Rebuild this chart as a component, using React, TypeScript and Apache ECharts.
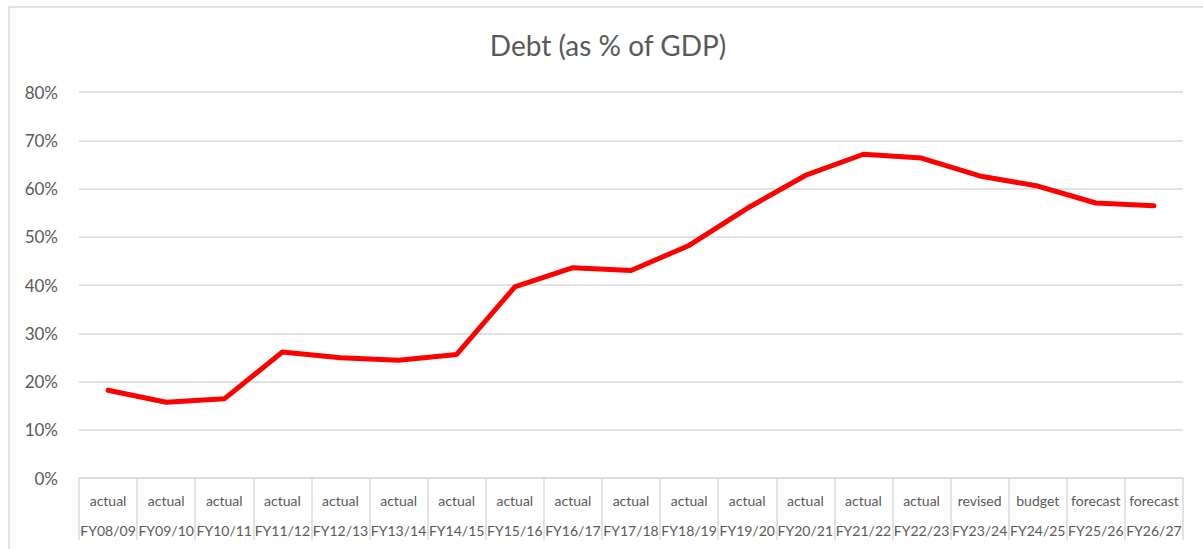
import React, { useEffect, useRef } from "react";
import * as echarts from "echarts";

const statuses = [
  "actual", "actual", "actual", "actual", "actual", "actual", "actual",
  "actual", "actual", "actual", "actual", "actual", "actual", "actual",
  "actual", "revised", "budget", "forecast", "forecast",
];
const years = [
  "FY08/09", "FY09/10", "FY10/11", "FY11/12", "FY12/13", "FY13/14", "FY14/15",
  "FY15/16", "FY16/17", "FY17/18", "FY18/19", "FY19/20", "FY20/21", "FY21/22",
  "FY22/23", "FY23/24", "FY24/25", "FY25/26", "FY26/27",
];
const debtPct = [
  18.2, 15.7, 16.4, 26.1, 24.9, 24.4, 25.6, 39.6, 43.6, 43.0, 48.2, 55.9,
  62.7, 67.1, 66.3, 62.6, 60.5, 57.0, 56.4,
];

const FONT = "Lato, 'Open Sans', sans-serif";
const TXT = "#595959";
const GRID = "#d9d9d9";

export default function App() {
  const ref = useRef<HTMLDivElement>(null);
  useEffect(() => {
    if (!ref.current) return;
    const chart = echarts.init(ref.current, undefined, { renderer: "svg" });
    const cats = years.map((y, i) => statuses[i] + "|" + y);
    chart.setOption({
      animation: false,
      backgroundColor: "#ffffff",
      graphic: [
        {
          type: "rect",
          shape: { x: 9, y: 7, width: 1210, height: 570 },
          style: { fill: "none", stroke: GRID, lineWidth: 1.5 },
          silent: true,
        },
        {
          type: "text",
          x: 608,
          y: 45,
          style: {
            text: "Debt (as % of GDP)",
            font: `28px ${FONT}`,
            fill: TXT,
            textAlign: "center",
            textVerticalAlign: "middle",
          },
        },
      ],
      grid: { left: 79, right: 20, top: 92, bottom: 71, containLabel: false },
      xAxis: {
        type: "category",
        data: cats,
        boundaryGap: true,
        axisLine: { show: true, lineStyle: { color: GRID, width: 1.5 } },
        axisTick: {
          show: true,
          interval: 0,
          length: 62,
          lineStyle: { color: GRID, width: 1.5 },
        },
        axisLabel: {
          interval: 0,
          margin: 7,
          formatter: (v: string) => {
            const [s, y] = v.split("|");
            return `{a|${s}}\n{b|${y}}`;
          },
          rich: {
            a: { fontFamily: FONT, fontSize: 14, color: TXT, lineHeight: 30 },
            b: { fontFamily: FONT, fontSize: 14, color: TXT, lineHeight: 30 },
          },
        },
        splitLine: { show: false },
      },
      yAxis: {
        type: "value",
        min: 0,
        max: 80,
        interval: 10,
        axisLine: { show: false },
        axisTick: { show: false },
        axisLabel: {
          formatter: "{value}%",
          margin: 21,
          fontFamily: FONT,
          fontSize: 17,
          color: TXT,
        },
        splitLine: { lineStyle: { color: GRID, width: 1.5 } },
      },
      series: [
        {
          type: "line",
          data: debtPct,
          showSymbol: false,
          symbol: "none",
          lineStyle: { color: "#ff0000", width: 5, cap: "round", join: "round" },
          itemStyle: { color: "#ff0000" },
        },
      ],
    });
    return () => chart.dispose();
  }, []);
  return (
    <div
      ref={ref}
      style={{ position: "absolute", left: 0, top: 0, width: 1203, height: 549 }}
    />
  );
}
